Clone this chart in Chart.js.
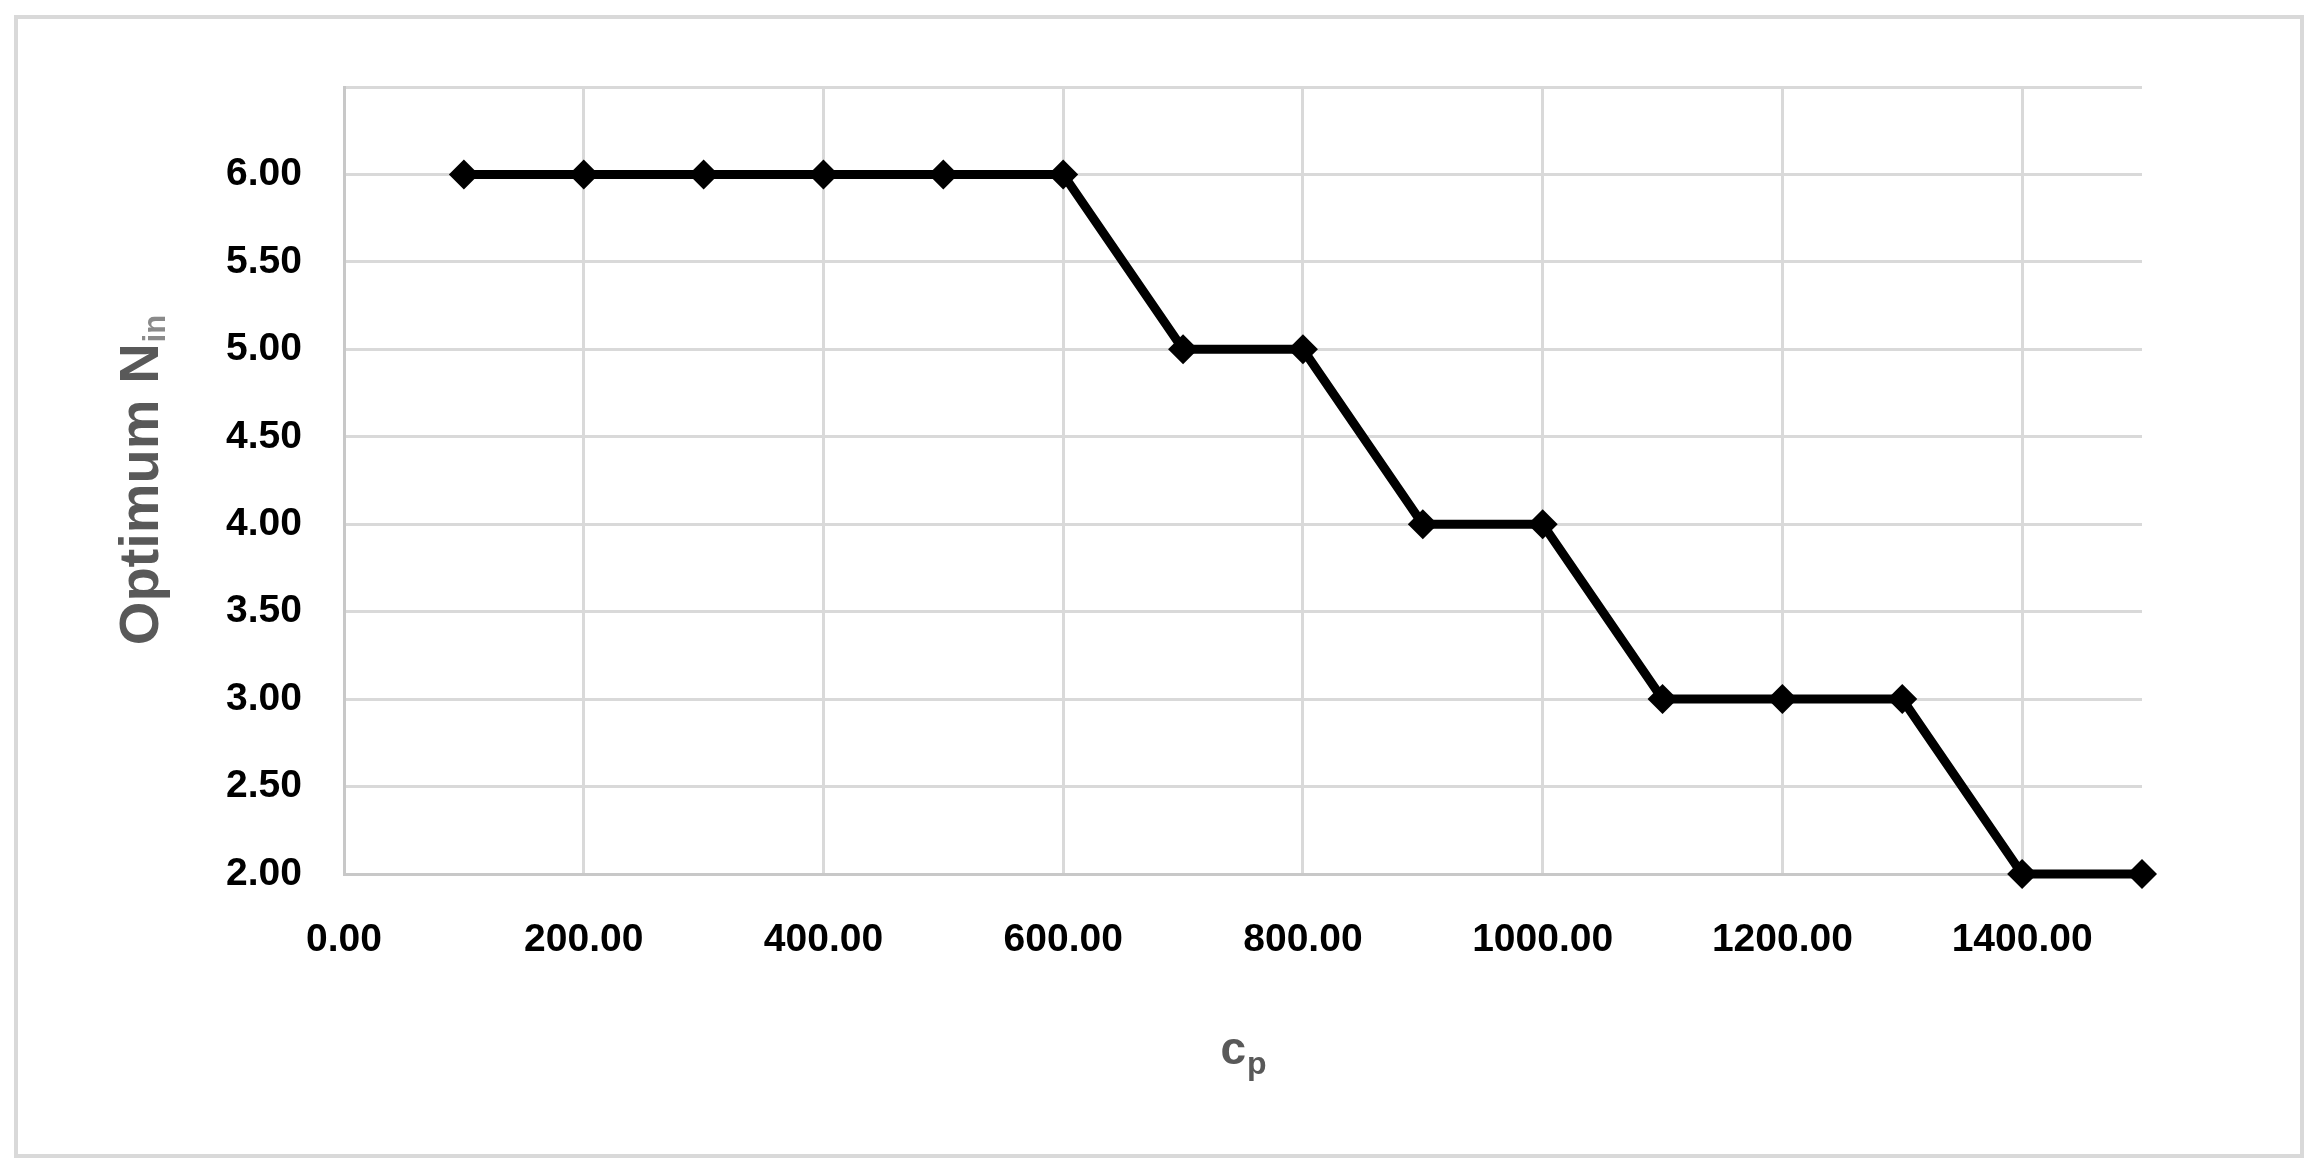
<!DOCTYPE html>
<html><head><meta charset="utf-8">
<script src="https://cdn.jsdelivr.net/npm/chart.js@4.4.1/dist/chart.umd.min.js"></script>
<style>html,body{margin:0;padding:0;background:#fff;overflow:hidden}#wrap{width:2317px;height:1172px;position:relative}canvas{display:block}</style>
</head><body>
<div id="wrap"><canvas id="c"></canvas></div>
<script>
const cpValues = [100,200,300,400,500,600,700,800,900,1000,1100,1200,1300,1400,1500];
const optimumNin = [6,6,6,6,6,6,5,5,4,4,3,3,3,2,2];
const xTicks = [0,200,400,600,800,1000,1200,1400];
const xTickLabels = ['0.00','200.00','400.00','600.00','800.00','1000.00','1200.00','1400.00'];
const yTicks = [2,2.5,3,3.5,4,4.5,5,5.5,6,6.5];
const yTickLabels = ['2.00','2.50','3.00','3.50','4.00','4.50','5.00','5.50','6.00',''];
const yTitleMain = 'Optimum N';
const yTitleSub = 'in';
const xTitleMain = 'c';
const xTitleSub = 'p';

const FONT = '"Liberation Sans", Arial, sans-serif';

const decor = {
  id: 'decor',
  beforeDraw(chart) {
    const ctx = chart.ctx;
    ctx.save();
    ctx.fillStyle = '#fff';
    ctx.fillRect(0, 0, chart.width, chart.height);
    ctx.strokeStyle = '#d9d9d9';
    ctx.lineWidth = 4;
    ctx.strokeRect(16, 17, 2286, 1139);
    ctx.restore();
  },
  afterDraw(chart) {
    const ctx = chart.ctx;
    const a = chart.chartArea;
    ctx.save();
    ctx.fillStyle = '#595959';
    ctx.translate(158, (a.top + a.bottom) / 2);
    ctx.rotate(-Math.PI / 2);
    ctx.textBaseline = 'alphabetic';
    ctx.textAlign = 'left';
    ctx.font = 'bold 56px ' + FONT;
    const w1 = ctx.measureText(yTitleMain).width;
    ctx.font = 'bold 31px ' + FONT;
    const w2 = ctx.measureText(yTitleSub).width;
    const start = -(w1 + w2) / 2;
    ctx.font = 'bold 56px ' + FONT;
    ctx.fillText(yTitleMain, start, 0);
    ctx.font = 'bold 31px ' + FONT;
    ctx.fillStyle = '#8a8a8a';
    ctx.fillText(yTitleSub, start + w1 + 1, 7);
    ctx.restore();

    ctx.save();
    ctx.fillStyle = '#595959';
    ctx.textBaseline = 'alphabetic';
    ctx.textAlign = 'left';
    ctx.font = 'bold 46px ' + FONT;
    const v1 = ctx.measureText(xTitleMain).width;
    ctx.font = 'bold 32px ' + FONT;
    const v2 = ctx.measureText(xTitleSub).width;
    const cx = (a.left + a.right) / 2;
    const xs = cx - (v1 + v2) / 2;
    ctx.font = 'bold 46px ' + FONT;
    ctx.fillText(xTitleMain, xs, 1064);
    ctx.font = 'bold 32px ' + FONT;
    ctx.fillText(xTitleSub, xs + v1 + 1, 1074);
    ctx.restore();
  }
};

new Chart(document.getElementById('c'), {
  type: 'line',
  data: {
    datasets: [{
      data: cpValues.map((x, i) => ({x: x, y: optimumNin[i]})),
      borderColor: '#000',
      backgroundColor: '#000',
      borderWidth: 9,
      tension: 0,
      pointStyle: 'rectRot',
      pointRadius: 15,
      pointHoverRadius: 15,
      pointBackgroundColor: '#000',
      pointBorderColor: '#000',
      pointBorderWidth: 0,
      clip: false
    }]
  },
  options: {
    responsive: true,
    maintainAspectRatio: false,
    animation: false,
    events: [],
    layout: { padding: { left: 0, top: 87, right: 175, bottom: 0 } },
    plugins: { legend: { display: false }, tooltip: { enabled: false }, title: { display: false } },
    scales: {
      x: {
        type: 'linear',
        min: 0, max: 1500,
        afterBuildTicks(scale) { scale.ticks = xTicks.map(v => ({value: v})); },
        afterFit(scale) { scale.height = 298; },
        grid: { color: '#d9d9d9', lineWidth: 3, drawTicks: false },
        border: { color: '#c8c8c8', width: 3 },
        ticks: {
          padding: 43,
          color: '#000',
          font: { family: FONT, size: 39, weight: 'bold' },
          maxRotation: 0,
          autoSkip: false,
          callback(v) { const i = xTicks.indexOf(v); return i >= 0 ? xTickLabels[i] : ''; }
        }
      },
      y: {
        type: 'linear',
        min: 2, max: 6.5,
        afterBuildTicks(scale) { scale.ticks = yTicks.map(v => ({value: v})); },
        afterFit(scale) { scale.width = 344; },
        grid: { color: '#d9d9d9', lineWidth: 3, drawTicks: false },
        border: { color: '#c8c8c8', width: 3 },
        ticks: {
          padding: 42,
          color: '#000',
          font: { family: FONT, size: 39, weight: 'bold' },
          autoSkip: false,
          callback(v) { const i = yTicks.indexOf(v); return i >= 0 ? yTickLabels[i] : ''; }
        }
      }
    }
  },
  plugins: [decor]
});
</script>
</body></html>
